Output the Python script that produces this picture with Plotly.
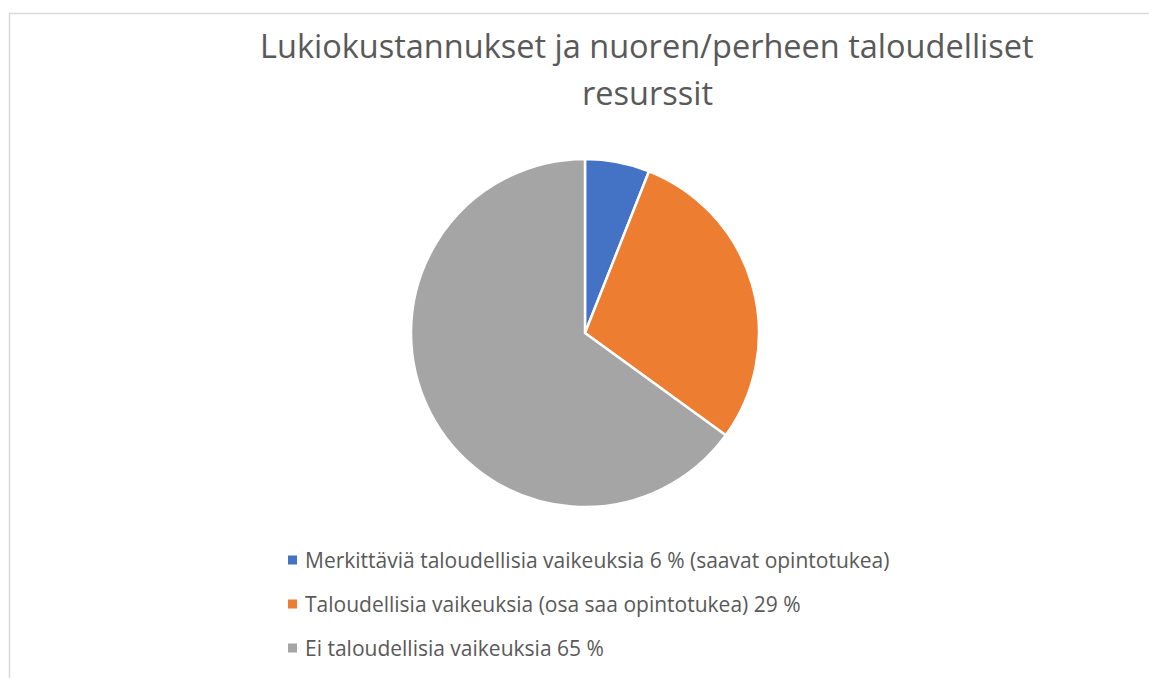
import plotly.graph_objects as go

title_lines = ["Lukiokustannukset ja nuoren/perheen taloudelliset", "resurssit"]
labels = [
    "Merkittäviä taloudellisia vaikeuksia 6 % (saavat opintotukea)",
    "Taloudellisia vaikeuksia (osa saa opintotukea) 29 %",
    "Ei taloudellisia vaikeuksia 65 %",
]
values = [6, 29, 65]
colors = ["#4472C4", "#ED7D31", "#A5A5A5"]

W, H = 1149, 678
FONT = "Open Sans"
TXT = "#595959"

fig = go.Figure()
fig.add_trace(go.Pie(
    labels=labels, values=values, sort=False, direction="clockwise", rotation=0,
    marker=dict(colors=colors, line=dict(color="white", width=2.5)),
    textinfo="none", hoverinfo="label+value", showlegend=False,
    domain=dict(x=[411 / W, 759 / W], y=[1 - 507 / H, 1 - 159 / H]),
))

shapes = [dict(type="rect", xref="paper", yref="paper",
               x0=9.5 / W, x1=1.05, y0=-0.05, y1=1 - 13.5 / H,
               line=dict(color="#D9D9D9", width=1.5), fillcolor="rgba(0,0,0,0)")]
annotations = []
title_y = [46, 92]
for line, ty in zip(title_lines, title_y):
    annotations.append(dict(text=line, xref="paper", yref="paper", x=647 / W, y=1 - ty / H,
                            xanchor="center", yanchor="middle", showarrow=False,
                            font=dict(family=FONT, size=32.5, color=TXT)))

leg_y0, leg_dy = 560, 44
for i, (lab, col) in enumerate(zip(labels, colors)):
    yc = leg_y0 + i * leg_dy
    shapes.append(dict(type="rect", xref="paper", yref="paper",
                       x0=288 / W, x1=297 / W, y0=1 - (yc + 4.5) / H, y1=1 - (yc - 4.5) / H,
                       line=dict(width=0), fillcolor=col))
    annotations.append(dict(text=lab, xref="paper", yref="paper", x=303 / W, y=1 - yc / H,
                            xanchor="left", yanchor="middle", showarrow=False,
                            font=dict(family=FONT, size=21, color=TXT)))

fig.update_layout(
    width=W, height=H, margin=dict(l=0, r=0, t=0, b=0),
    paper_bgcolor="white", plot_bgcolor="white",
    shapes=shapes, annotations=annotations, showlegend=False,
)
fig.write_html("out.html", config={"displayModeBar": False},
               post_script="document.body.style.margin='0';document.body.style.overflow='hidden';")
